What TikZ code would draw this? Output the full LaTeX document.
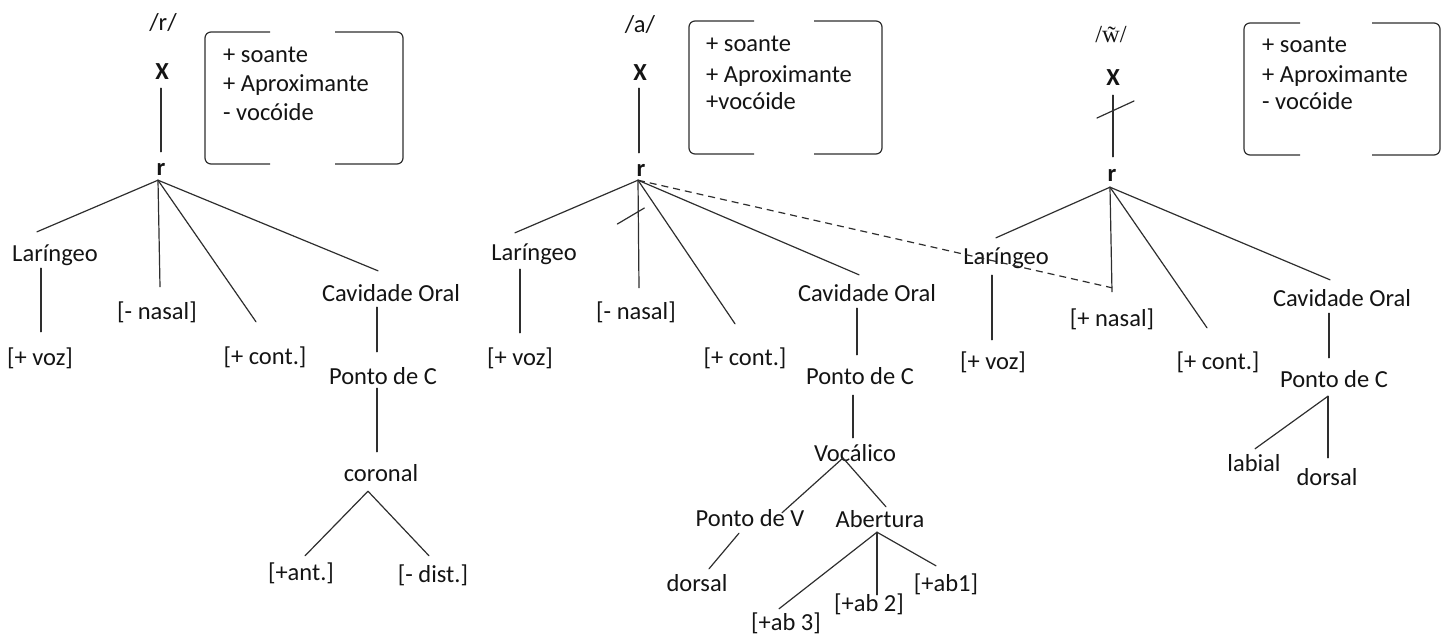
\documentclass[tikz,border=0pt]{standalone}
\usepackage{fontspec}
\setmainfont{Carlito}
\newfontfamily\ipafont{Liberation Serif}
\usetikzlibrary{calc}

\definecolor{ink}{gray}{0.08}
\definecolor{wire}{gray}{0.18}

\tikzset{
  lbl/.style={inner sep=0pt, text height=20pt, text depth=4pt, text=ink,
              font=\fontsize{24.5}{29}\selectfont},
  hd/.style={lbl, font=\fontsize{24.5}{29}\selectfont\bfseries},
  ft/.style={lbl, anchor=west},
  ln/.style={draw=wire, line width=1.2pt, line cap=round},
  dsh/.style={draw=wire, line width=1.2pt, dash pattern=on 7pt off 5pt},
  brk/.style={draw=wire, line width=1.2pt, rounded corners=6pt},
}

\begin{document}
\begin{tikzpicture}[x=1pt, y=1pt]
\useasboundingbox (0,0) rectangle (1449,-634);

% ---------------- /r/ ----------------
\node[lbl] (sl1) at (163,-23) {/r/};
\node[hd]  (X1)  at (162,-72) {X};
\node[hd]  (r1)  at (161,-167) {r};
\node[lbl] (lar1) at (55,-253) {Laríngeo};
\node[lbl] (voz1) at (40,-357) {[+ voz]};
\node[lbl] (nas1) at (157,-311) {[- nasal]};
\node[lbl] (con1) at (265,-356) {[+ cont.]};
\node[lbl] (cav1) at (391,-293) {Cavidade Oral};
\node[lbl] (pc1)  at (383,-376) {Ponto de C};
\node[lbl] (cor1) at (381,-473) {coronal};
\node[lbl] (ant1) at (301,-572) {[+ant.]};
\node[lbl] (dis1) at (433,-574) {[- dist.]};

\node[ft] (f1a) at (223,-55)  {+ soante};
\node[ft] (f1b) at (223,-84)  {+ Aproximante};
\node[ft] (f1c) at (223,-113) {- vocóide};
\draw[brk] (270,-32) -- (205,-32) -- (205,-164) -- (270,-164);
\draw[brk] (335,-32) -- (403,-32) -- (403,-164) -- (335,-164);

\coordinate (r1j) at ([shift={(-3,-1)}]r1.south);
\coordinate (cor1j) at ([shift={(-13,-6)}]cor1.south);
\draw[ln] ([shift={(-1,-4)}]X1.south) -- ([shift={(0,3)}]r1.north);
\draw[ln] (r1j) -- ([shift={(-18,9)}]lar1.north);
\draw[ln] ([shift={(-14,-3)}]lar1.south) -- ([shift={(1,13)}]voz1.north);
\draw[ln] (r1j) -- ([shift={(3,12)}]nas1.north);
\draw[ln] (r1j) -- ([shift={(-9,22)}]con1.north);
\draw[ln] (r1j) -- ([shift={(-13,10)}]cav1.north);
\draw[ln] ([shift={(-14,-2)}]cav1.south) -- ([shift={(-6,12)}]pc1.north);
\draw[ln] ([shift={(-6,0)}]pc1.south) -- ([shift={(-4,9)}]cor1.north);
\draw[ln] (cor1j) -- ([shift={(4,4)}]ant1.north);
\draw[ln] (cor1j) -- ([shift={(-4,6)}]dis1.north);

% ---------------- /a/ ----------------
\node[lbl] (sl2) at (640,-25) {/a/};
\node[hd]  (X2)  at (640,-73) {X};
\node[hd]  (r2)  at (641,-168) {r};
\node[lbl] (lar2) at (534,-252) {Laríngeo};
\node[lbl] (voz2) at (520,-357) {[+ voz]};
\node[lbl] (nas2) at (636,-311) {[- nasal]};
\node[lbl] (con2) at (745,-357) {[+ cont.]};
\node[lbl] (cav2) at (867,-293) {Cavidade Oral};
\node[lbl] (pc2)  at (860,-376) {Ponto de C};
\node[lbl] (voc2) at (855,-453) {Vocálico};
\node[lbl] (pv2)  at (750,-518) {Ponto de V};
\node[lbl] (ab2)  at (880,-519) {Abertura};
\node[lbl] (dor2) at (697,-583) {dorsal};
\node[lbl] (abc2) at (786,-622) {[+ab 3]};
\node[lbl] (abb2) at (869,-603) {[+ab 2]};
\node[lbl] (aba2) at (946,-583) {[+ab1]};

\node[ft] (f2a) at (706,-44)  {+ soante};
\node[ft] (f2b) at (706,-74)  {+ Aproximante};
\node[ft] (f2c) at (706,-102) {+vocóide};
\draw[brk] (754,-21) -- (689,-21) -- (689,-154) -- (754,-154);
\draw[brk] (814,-21) -- (882,-21) -- (882,-154) -- (814,-154);

\coordinate (r2j) at ([shift={(-3,0)}]r2.south);
\coordinate (nas2t) at ([shift={(3,11)}]nas2.north);
\coordinate (voc2j) at ([shift={(-12,-5)}]voc2.center);
\coordinate (ab2j) at ([shift={(-3,-1)}]ab2.south);
\draw[ln] ([shift={(-1,-3)}]X2.south) -- ([shift={(-2,3)}]r2.north);
\draw[ln] (r2j) -- ([shift={(-19,7)}]lar2.north);
\draw[ln] ([shift={(-14,-5)}]lar2.south) -- ([shift={(0,12)}]voz2.north);
\draw[ln] (r2j) -- (nas2t);
\coordinate (s2) at ($(r2j)!0.296!(nas2t)$);
\draw[ln] ([shift={(-21,-12)}]s2) -- ([shift={(6,4)}]s2);
\draw[ln] (r2j) -- ([shift={(-10,21)}]con2.north);
\draw[ln] (r2j) -- ([shift={(-8,6)}]cav2.north);
\draw[ln] ([shift={(-10,-3)}]cav2.south) -- ([shift={(-3,9)}]pc2.north);
\draw[ln] ([shift={(-7,-7)}]pc2.south) -- ([shift={(-2,3)}]voc2.north);
\draw[ln] (voc2j) -- ([shift={(32,-7)}]pv2.north);
\draw[ln] (voc2j) -- ([shift={(6,0)}]ab2.north);
\draw[ln] ([shift={(-11,-3)}]pv2.south) -- ([shift={(12,2)}]dor2.north);
\draw[ln] (ab2j) -- ([shift={(-7,1)}]abc2.north);
\draw[ln] (ab2j) -- ([shift={(8,-4)}]abb2.north);
\draw[ln] (ab2j) -- ([shift={(-10,5)}]aba2.north);

% ---------------- /w~/ ----------------
\node[lbl, font=\fontsize{24.5}{29}\selectfont\ipafont] (sl3) at (1111,-35) {/\~{w}/};
\node[hd]  (X3)  at (1113,-77) {X};
\node[hd]  (r3)  at (1112,-173) {r};
\node[lbl] (lar3) at (1006,-256) {Laríngeo};
\node[lbl] (voz3) at (993,-361) {[+ voz]};
\node[lbl] (nas3) at (1112,-318) {[+ nasal]};
\node[lbl] (con3) at (1218,-361) {[+ cont.]};
\node[lbl] (cav3) at (1342,-298) {Cavidade Oral};
\node[lbl] (pc3)  at (1334,-379) {Ponto de C};
\node[lbl] (lab3) at (1254,-463) {labial};
\node[lbl] (dor3) at (1327,-477) {dorsal};

\node[ft] (f3a) at (1262,-45)  {+ soante};
\node[ft] (f3b) at (1262,-74)  {+ Aproximante};
\node[ft] (f3c) at (1262,-102) {- vocóide};
\draw[brk] (1300,-23) -- (1244,-23) -- (1244,-155) -- (1300,-155);
\draw[brk] (1372,-23) -- (1440,-23) -- (1440,-155) -- (1372,-155);

\coordinate (X3b) at ([shift={(0,-6)}]X3.south);
\coordinate (r3t) at ([shift={(1,4)}]r3.north);
\coordinate (r3j) at ([shift={(-2,-2)}]r3.south);
\coordinate (pc3j) at ([shift={(-6,-5)}]pc3.south);
\draw[ln] (X3b) -- (r3t);
\coordinate (s3) at ($(X3b)!0.25!(r3t)$);
\draw[ln] ([shift={(-16,-7.4)}]s3) -- ([shift={(21,9.6)}]s3);
\draw[ln] (r3j) -- ([shift={(-10,6)}]lar3.north);
\draw[ln] ([shift={(-14,-7)}]lar3.south) -- ([shift={(-1,9)}]voz3.north);
\draw[ln] (r3j) -- ([shift={(0,14)}]nas3.north);
\draw[ln] (r3j) -- ([shift={(-11,21)}]con3.north);
\draw[ln] (r3j) -- ([shift={(-12,6)}]cav3.north);
\draw[ln] ([shift={(-13,-3)}]cav3.south) -- ([shift={(-5,9)}]pc3.north);
\draw[ln] (pc3j) -- ([shift={(1,2)}]lab3.north);
\draw[ln] (pc3j) -- ([shift={(1,7)}]dor3.north);

% spreading link from the /a/ root to [+ nasal]
\draw[dsh] (r2j) -- ([shift={(0,18)}]nas3.north);
\end{tikzpicture}
\end{document}
